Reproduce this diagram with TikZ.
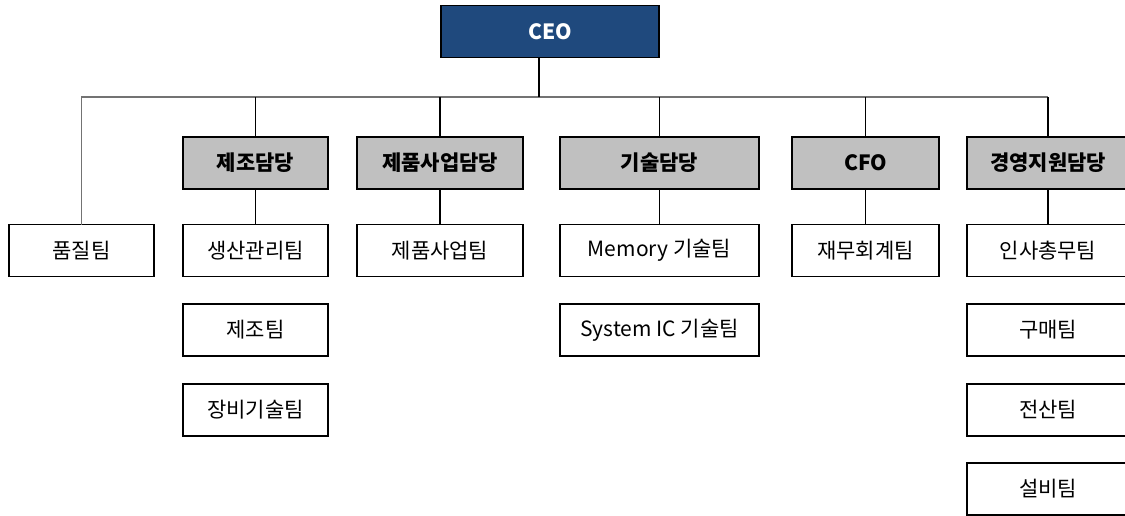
\documentclass[tikz,border=0pt]{standalone}
\usepackage{fontspec}
\setmainfont{Noto Sans CJK KR}
\usepackage{xcolor}
\definecolor{n1}{HTML}{1F497D}
\definecolor{g1}{HTML}{C0C0C0}

\begin{document}
\begin{tikzpicture}[x=0.5pt,y=-0.5pt,
  box/.style={draw=black,line width=0.9pt,minimum height=26pt,inner sep=0pt,outer sep=0pt,
    font=\fontsize{10.5}{12}\selectfont},
  team/.style={box,fill=white},
  dept/.style={box,fill=g1,font=\fontsize{10.5}{12}\selectfont\bfseries},
  link/.style={line width=0.8pt},
  busline/.style={line width=0.8pt,black!55}]
  \clip (0,0) rectangle (1125,515);
  \coordinate (bus) at (0,97);

  \node[box,fill=n1,text=white,font=\fontsize{10.5}{12}\selectfont\bfseries,minimum width=109pt] (ceo) at (550,31.5) {CEO};

  % departments
  \node[team,minimum width=72.5pt] (qual) at (81.5,250.5) {품질팀};
  \node[dept,minimum width=72.5pt] (mfg) at (255.5,163) {제조담당};
  \node[dept,minimum width=83pt] (biz) at (440,163) {제품사업담당};
  \node[dept,minimum width=99.5pt] (tech) at (659.5,163) {기술담당};
  \node[dept,minimum width=73.5pt] (cfo) at (865.5,163) {CFO};
  \node[dept,minimum width=81pt] (admin) at (1048,163) {경영지원담당};

  % teams
  \node[team,minimum width=72.5pt] (prodctl) at (255.5,250.5) {생산관리팀};
  \node[team,minimum width=72.5pt] (mfgteam) at (255.5,330) {제조팀};
  \node[team,minimum width=72.5pt] (equip) at (255.5,410) {장비기술팀};
  \node[team,minimum width=83pt] (bizteam) at (440,250.5) {제품사업팀};
  \node[team,minimum width=99.5pt] (memory) at (659.5,250.5) {Memory 기술팀};
  \node[team,minimum width=99.5pt] (sysic) at (659.5,330) {System IC 기술팀};
  \node[team,minimum width=73.5pt] (finance) at (865.5,250.5) {재무회계팀};
  \node[team,minimum width=81pt] (hr) at (1048,250.5) {인사총무팀};
  \node[team,minimum width=81pt] (purchase) at (1048,330) {구매팀};
  \node[team,minimum width=81pt] (it) at (1048,410) {전산팀};
  \node[team,minimum width=81pt] (facility) at (1048,489) {설비팀};

  % lines
  \draw[busline] (qual.north) |- (admin.north |- bus);
  \coordinate (ceofoot) at ([xshift=-5.5pt]ceo.south);
  \draw[link] (ceofoot) -- (ceofoot |- bus);
  \foreach \d in {mfg,biz,tech,cfo,admin}
    \draw[link] (\d.north |- bus) -- (\d.north);
  \foreach \a/\b in {mfg/prodctl,biz/bizteam,tech/memory,cfo/finance,admin/hr}
    \draw[link] (\a) -- (\b);
\end{tikzpicture}
\end{document}
